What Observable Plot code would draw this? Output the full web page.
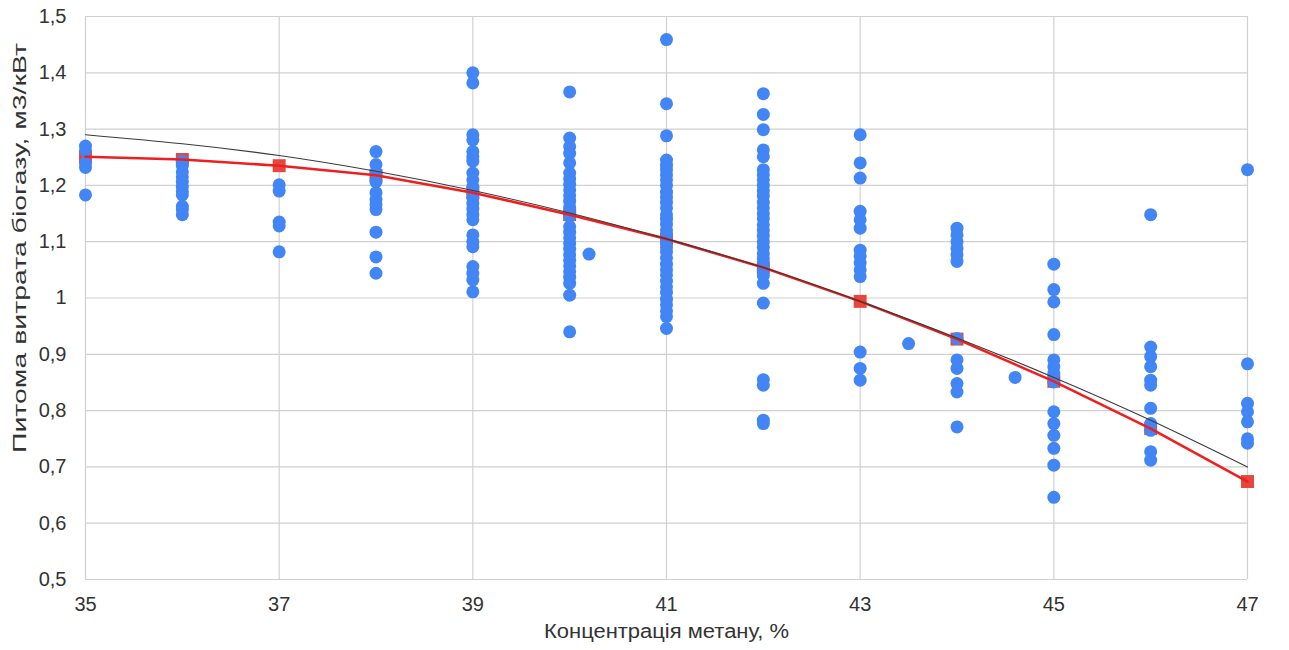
<!DOCTYPE html>
<html>
<head>
<meta charset="utf-8">
<script src="https://cdn.jsdelivr.net/npm/d3@7"></script>
<script src="https://cdn.jsdelivr.net/npm/@observablehq/plot@0.6"></script>
<style>
  html, body { margin: 0; padding: 0; background: #fff; }
  svg { display: block; }
</style>
</head>
<body>
<div id="chart"></div>
<script>
// Axis ticks
const xTicks = [35, 37, 39, 41, 43, 45, 47];
const yTicks = [0.5, 0.6, 0.7, 0.8, 0.9, 1.0, 1.1, 1.2, 1.3, 1.4, 1.5];
const yTickLabels = ["0,5", "0,6", "0,7", "0,8", "0,9", "1", "1,1", "1,2", "1,3", "1,4", "1,5"];
const xLabel = "Концентрація метану, %";
const yLabel = "Питома витрата біогазу, м3/кВт";

// Observed points per methane concentration (%)
const v35 = [1.27, 1.262, 1.24, 1.232, 1.183];
const v36 = [1.243, 1.235, 1.224, 1.215, 1.206, 1.197, 1.189, 1.183, 1.163, 1.157, 1.148];
const v37 = [1.201, 1.19, 1.135, 1.128, 1.082];
const v38 = [1.26, 1.237, 1.222, 1.206, 1.187, 1.175, 1.166, 1.157, 1.117, 1.073, 1.044];
const v39 = [1.40, 1.382, 1.29, 1.281, 1.26, 1.251, 1.243, 1.222, 1.21, 1.198, 1.188, 1.178, 1.168, 1.158, 1.148, 1.139, 1.112, 1.10, 1.091, 1.056, 1.044, 1.032, 1.011];
const v40 = [1.366, 1.284, 1.269, 1.257, 1.24, 1.222, 1.212, 1.202, 1.192, 1.182, 1.172, 1.162, 1.152, 1.145, 1.127, 1.117, 1.107, 1.097, 1.087, 1.077, 1.067, 1.057, 1.047, 1.037, 1.026, 1.005, 0.94];
const v41 = [1.459, 1.345, 1.288, 1.245, 1.236, 1.228, 1.219, 1.21, 1.2, 1.188, 1.179, 1.17, 1.16, 1.148, 1.14, 1.131, 1.12, 1.11, 1.1, 1.09, 1.082, 1.071, 1.06, 1.05, 1.041, 1.03, 1.02, 1.01, 0.998, 0.988, 0.977, 0.967, 0.946];
const v42 = [1.363, 1.326, 1.299, 1.263, 1.251, 1.228, 1.219, 1.21, 1.2, 1.19, 1.181, 1.17, 1.16, 1.15, 1.141, 1.13, 1.12, 1.11, 1.1, 1.09, 1.079, 1.07, 1.06, 1.05, 1.04, 1.026, 0.991, 0.855, 0.845, 0.783, 0.777];
const v43 = [1.29, 1.24, 1.213, 1.154, 1.139, 1.124, 1.085, 1.074, 1.062, 1.05, 1.038, 0.904, 0.875, 0.854];
const v44 = [1.124, 1.112, 1.1, 1.088, 1.077, 1.065, 0.928, 0.89, 0.875, 0.848, 0.833, 0.771];
const v45 = [1.06, 1.015, 0.993, 0.935, 0.89, 0.878, 0.866, 0.851, 0.798, 0.777, 0.756, 0.733, 0.703, 0.646];
const v46 = [1.148, 0.913, 0.896, 0.878, 0.854, 0.845, 0.804, 0.777, 0.765, 0.727, 0.712];
const v47 = [1.228, 0.883, 0.813, 0.798, 0.78, 0.75, 0.742];
// Off-grid points
const extraX = [40.2, 43.5, 44.6];
const extraY = [1.078, 0.919, 0.859];

// Mean (red) and trend (black) curves
const conc = [35, 36, 37, 38, 39, 40, 41, 42, 43, 44, 45, 46, 47];
const meanVals = [1.251, 1.246, 1.235, 1.218, 1.187, 1.148, 1.105, 1.054, 0.994, 0.927, 0.852, 0.768, 0.674];
const trendVals = [1.29, 1.274, 1.253, 1.225, 1.191, 1.151, 1.105, 1.054, 0.994, 0.929, 0.859, 0.783, 0.70];

const columns = [v35, v36, v37, v38, v39, v40, v41, v42, v43, v44, v45, v46, v47];
const dots = columns.flatMap((vs, i) => vs.map(y => ({x: conc[i], y})))
  .concat(extraX.map((x, i) => ({x, y: extraY[i]})));
const mean = conc.map((x, i) => ({x, y: meanVals[i]}));
const trend = conc.map((x, i) => ({x, y: trendVals[i]}));

const chart = Plot.plot({
  width: 1289,
  height: 650,
  marginLeft: 85,
  marginRight: 42,
  marginTop: 16,
  marginBottom: 71,
  style: {fontFamily: "'Liberation Sans', Arial, sans-serif", fontSize: "20px", color: "#333", background: "#fff"},
  x: {domain: [35, 47]},
  y: {domain: [0.5, 1.5]},
  marks: [
    Plot.gridY(yTicks, {stroke: "#d0d0d0", strokeOpacity: 1, strokeWidth: 1.2}),
    Plot.gridX(xTicks, {stroke: "#d0d0d0", strokeOpacity: 1, strokeWidth: 1.2}),
    Plot.axisY(yTicks, {tickSize: 0, tickPadding: 19, tickFormat: (d, i) => yTickLabels[i], label: null, fontSize: 20}),
    Plot.axisX(xTicks, {tickSize: 0, tickPadding: 17, label: null, fontSize: 20}),
    Plot.dot(mean, {x: "x", y: "y", symbol: "square", r: 7.3, fill: "#e8453c"}),
    Plot.dot(dots, {x: "x", y: "y", r: 6.5, fill: "#4285f4"}),
    Plot.line(mean, {x: "x", y: "y", stroke: "#f01f1f", strokeWidth: 2.6}),
    Plot.line(trend, {x: "x", y: "y", stroke: "#3a3a3a", strokeWidth: 1.1, curve: "natural"}),
    Plot.text([xLabel], {frameAnchor: "bottom", dy: 58, fontSize: 20, fill: "#333", className: "xlab"}),
    Plot.text([yLabel], {frameAnchor: "left", textAnchor: "middle", dx: -66, dy: -50, rotate: -90, fontSize: 19, fill: "#333", className: "ylab"})
  ]
});
document.getElementById("chart").appendChild(chart);
// Stretch the axis titles to the reference's text lengths
d3.select(chart).selectAll(".xlab text").attr("textLength", 245).attr("lengthAdjust", "spacingAndGlyphs");
d3.select(chart).selectAll(".ylab text").attr("textLength", 410).attr("lengthAdjust", "spacingAndGlyphs");
</script>
</body>
</html>
